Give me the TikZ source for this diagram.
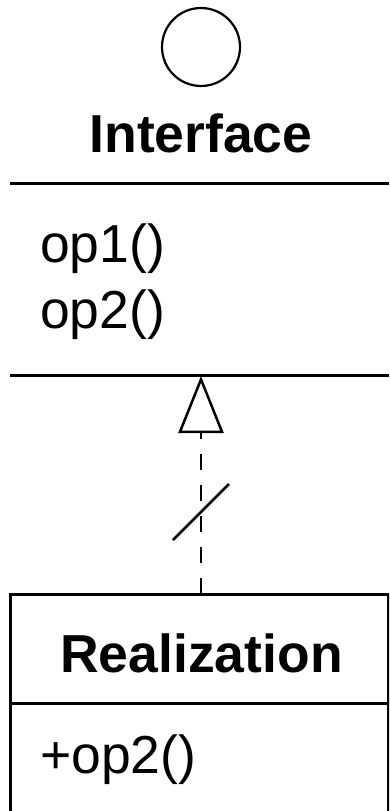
\documentclass[tikz,border=0pt]{standalone}
\usepackage{fontspec}
\setmainfont{Liberation Sans}
\usetikzlibrary{arrows.meta}
\tikzset{
  bigtext/.style={font=\fontsize{53.5}{64}\selectfont, inner sep=0pt, anchor=base},
  boldtext/.style={bigtext, font=\fontsize{53.5}{64}\selectfont\bfseries},
  rule/.style={line width=3pt},
  realizes/.style={line width=2.5pt, dash pattern=on 16pt off 15pt,
    -{Triangle[open, length=57pt, width=45pt, line width=2.5pt]}},
}
\begin{document}
\begin{tikzpicture}[x=1pt,y=-1pt]
\useasboundingbox (0,0) rectangle (389,811);
\begin{scope}
\clip (0,0) rectangle (389,811);
% Interface
\node[circle, draw, line width=2.2pt, minimum size=78pt, inner sep=0pt] (lollipop) at (201,47) {};
\node[boldtext] (iname) at (201,152) {Interface};
\draw[rule] (10,183) -- (395,183);
\node[bigtext, anchor=base west] (op1) at (40,262) {op1()};
\node[bigtext, anchor=base west] (op2) at (40,328) {op2()};
\draw[rule] (10,375) -- (395,375);
\coordinate (ibottom) at (201,376);
% Realization
\draw[rule] (10,820) -- (10,594) -- (388.5,594) -- (388.5,820);
\draw[rule] (10,703) -- (395,703);
\coordinate (rtop) at (201,594);
\node[boldtext] (rname) at (201.5,672) {Realization};
\node[bigtext, anchor=base west] (rop) at (40,773) {+op2()};
% connector
\draw[realizes] (rtop) -- (ibottom);
\coordinate (s1) at (173,540);
\coordinate (s2) at (229,484);
\draw[line width=2.5pt] (s1) -- (s2);
\end{scope}
\end{tikzpicture}
\end{document}
